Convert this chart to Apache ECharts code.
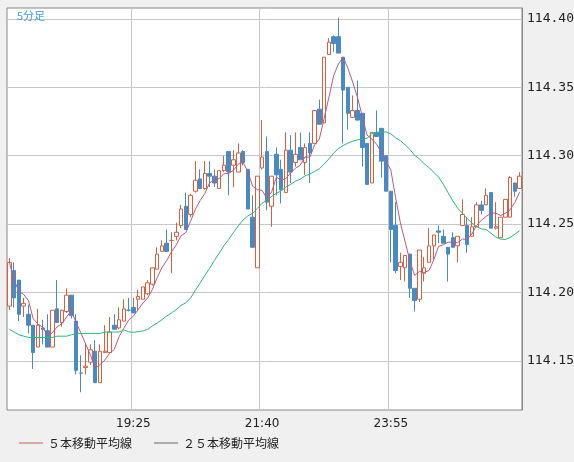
<!DOCTYPE html>
<html><head><meta charset="utf-8">
<script src="https://cdn.jsdelivr.net/npm/echarts@6/dist/echarts.min.js"></script>
<style>html,body{margin:0;padding:0;background:#f0f0f0}#c{width:574px;height:462px}</style>
</head><body><div id="c"></div>
<script>
// OHLC in thousandths above 114.000: [open, close, low, high]
const ohlc = [
[190,222,187,225],[216,196,189,222],[209,184,179,209],[190,192,182,196],[184,176,170,191],
[176,156,144,176],[160,176,160,188],[174,173,162,180],[172,160,160,184],[160,187,160,187],
[188,178,178,209],[178,187,175,187],[186,198,185,203],[198,183,181,198],[179,143,140,184],
[141,141,127,154],[145,146,140,163],[149,158,147,162],[157,134,134,165],[134,157,134,162],
[156,157,156,176],[156,171,156,182],[176,173,173,184],[174,180,173,189],[179,188,179,195],
[187,187,186,196],[189,185,185,196],[195,197,187,202],[195,204,195,204],[199,207,198,209],
[206,218,205,218],[217,228,217,233],[230,234,230,238],[236,230,230,246],[238,238,214,244],
[241,244,238,251],[249,261,247,264],[263,246,246,273],[257,271,255,272],[274,282,273,296],
[283,276,276,290],[276,287,275,296],[287,285,277,296],[285,280,277,290],[276,289,276,289],
[289,293,288,300],[303,288,271,303],[293,297,277,304],[288,302,288,309],[303,295,293,304],
[290,261,261,290],[255,233,233,271],[218,285,218,285],[291,299,290,326],[303,266,260,314],
[263,285,248,285],[301,286,271,306],[290,275,265,297],[273,304,273,317],[304,288,280,315],
[295,301,292,317],[306,297,297,317],[295,306,286,309],[309,302,280,317],[309,333,309,333],
[334,323,323,341],[324,372,324,372],[374,383,374,386],[387,382,376,388],[387,375,375,401],
[372,348,309,372],[350,331,319,350],[328,333,328,344],[333,326,326,355],[331,306,292,331],
[309,279,279,309],[280,317,280,317],[317,314,314,333],[320,296,284,320],[300,274,274,300],
[274,246,222,274],[249,216,214,266],[219,222,209,229],[218,227,208,227],[228,203,196,228],
[203,194,186,203],[195,231,193,231],[214,218,208,226],[222,234,222,247],[234,242,224,242],
[245,244,236,249],[241,236,236,246],[233,228,208,233],[240,233,233,244],[234,241,222,241],
[249,257,249,268],[249,235,229,255],[241,248,241,255],[248,264,248,266],[264,260,257,267],
[264,271,264,276],[273,247,247,273],[247,248,246,266],[240,255,240,255],[255,268,255,268],
[255,284,255,285],[280,274,270,280],[276,285,276,288]
];
// 25-bar average for the first bars (uses history before the window)
const ma25Head = [114.173,114.171,114.169,114.168,114.167,114.167,114.167,114.167,114.167,114.167,
  114.168,114.168,114.168,114.169,114.170,114.170,114.170,114.170,114.170,114.170,114.171,114.171,114.171,114.171];
const startTime = [17, 15];
const tickLabels = ['19:25', '21:40', '23:55'];
const yTicks = [114.15, 114.20, 114.25, 114.30, 114.35, 114.40];
const titleText = '5分足';
const legendNames = ['５本移動平均線', '２５本移動平均線'];

const data = ohlc.map(r => r.map(v => +(114 + v / 1000).toFixed(3)));
const cats = data.map((_, i) => {
  const m = startTime[0] * 60 + startTime[1] + 5 * i;
  const h = Math.floor(m / 60) % 24, mm = m % 60;
  return h + ':' + String(mm).padStart(2, '0');
});
function ma(n) {
  return data.map((_, i) => {
    const s = Math.max(0, i - n + 1); let t = 0;
    for (let k = s; k <= i; k++) t += data[k][1];
    return +(t / (i - s + 1)).toFixed(4);
  });
}
const ma25 = ma(25).map((v, i) => i < ma25Head.length ? ma25Head[i] : v);
const showIdx = i => tickLabels.includes(cats[i]);
const chart = echarts.init(document.getElementById('c'));
chart.setOption({
  animation: false,
  backgroundColor: '#f0f0f0',
  title: { text: titleText, left: 12, top: 5, textStyle: { color: '#3fa0e0', fontSize: 11, fontWeight: 'normal', fontFamily: 'Noto Sans CJK JP' } },
  legend: {
    data: legendNames.map((n, i) => ({ name: n, icon: 'path://M0,0L30,0L30,1L0,1Z', itemStyle: { color: i ? '#444' : '#b04030' } })),
    left: 14, bottom: 8, itemWidth: 24, itemHeight: 1, itemGap: 22,
    textStyle: { color: '#222', fontSize: 12, fontFamily: 'Noto Sans CJK JP' }
  },
  grid: { left: 7, right: 52, top: 8, bottom: 52, outerBoundsMode: 'none', containLabel: false, show: true, backgroundColor: '#fff', borderColor: '#888', borderWidth: 1 },
  xAxis: {
    type: 'category', data: cats, boundaryGap: true,
    axisLine: { show: false }, axisTick: { show: false },
    axisLabel: { interval: (i) => showIdx(i), color: '#222', fontSize: 12, fontFamily: 'DejaVu Sans', margin: 8 },
    splitLine: { show: true, interval: (i) => showIdx(i), lineStyle: { color: '#c8c8c8' } }
  },
  yAxis: {
    type: 'value', position: 'right', min: 114.114, max: 114.408, scale: true,
    axisLine: { show: true, lineStyle: { color: '#888' } },
    axisTick: { show: false, customValues: yTicks },
    axisLabel: { customValues: yTicks, formatter: v => v.toFixed(2), color: '#222', fontSize: 13, fontFamily: 'DejaVu Sans Mono', margin: 5 },
    splitLine: { show: true, lineStyle: { color: '#c8c8c8' } }
  },
  series: [
    { type: 'candlestick', data: data, barWidth: 4,
      itemStyle: { color: '#fff', color0: '#4a8ac2', borderColor: '#d8603e', borderColor0: '#4a8ac2', borderWidth: 1 } },
    { name: legendNames[0], type: 'line', data: ma(5), symbol: 'none', lineStyle: { color: '#b85a84', width: 1 } },
    { name: legendNames[1], type: 'line', data: ma25, symbol: 'none', lineStyle: { color: '#2db77a', width: 1 } }
  ]
});
</script></body></html>
